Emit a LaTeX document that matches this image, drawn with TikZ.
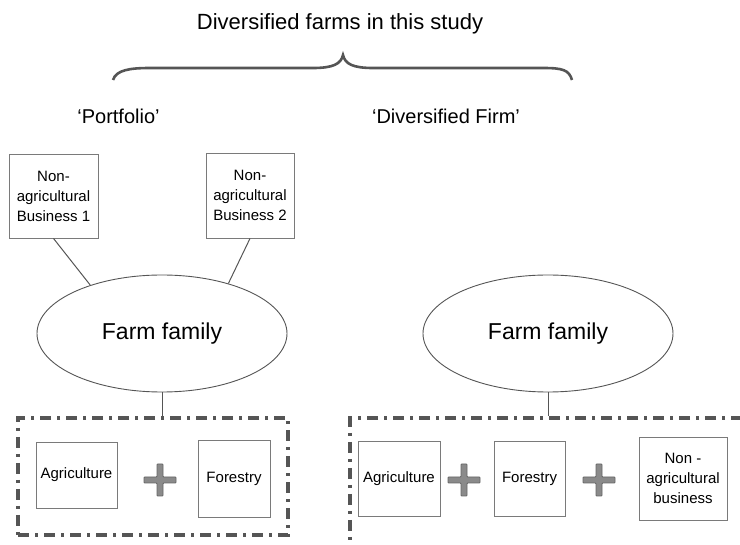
\documentclass[tikz,border=0pt]{standalone}
\usepackage{fontspec}
\setmainfont{Liberation Sans}
\usetikzlibrary{shapes.geometric}
\definecolor{linegray}{HTML}{555555}
\definecolor{boxgray}{HTML}{7A7A7A}
\definecolor{plusfill}{HTML}{8A8A8A}
\definecolor{plusedge}{HTML}{666666}
\tikzset{
  smallbox/.style={draw=boxgray, line width=0.9pt, rectangle, inner sep=0pt,
    align=center, font=\fontsize{15}{20}\selectfont},
  family/.style={draw=linegray, line width=0.9pt, ellipse, inner sep=0pt,
    minimum width=250pt, minimum height=117pt, font=\fontsize{23}{26}\selectfont},
  groupbox/.style={draw=linegray, line width=3.5pt, rectangle, inner sep=0pt,
    dash pattern=on 11pt off 6pt on 3pt off 6pt},
  link/.style={draw=linegray, line width=1pt},
  label/.style={font=\fontsize{20}{24}\selectfont},
  plussign/.pic={
    \draw[fill=plusfill, draw=plusedge, line width=0.8pt, rounded corners=0.8pt]
      (-16,-3) -- (-3,-3) -- (-3,-16) -- (3,-16) -- (3,-3) -- (16,-3) -- (16,3)
      -- (3,3) -- (3,16) -- (-3,16) -- (-3,3) -- (-16,3) -- cycle;
  }
}
\begin{document}
\begin{tikzpicture}[x=1pt, y=-1pt]
\useasboundingbox (0,0) rectangle (740,545);
\clip (0,0) rectangle (740,545);

% heading and brace
\node[font=\fontsize{22}{26}\selectfont] (title) at (340,24) {Diversified farms in this study};
\draw[draw=linegray, line width=2.6pt]
  (113,80) .. controls (116,70) and (130,68) .. (150,68)
  -- (313,68) .. controls (333,68) and (341,64) .. (343,55)
  .. controls (345,64) and (353,68) .. (373,68)
  -- (543,68) .. controls (563,68) and (569,70) .. (572,80);

\node[label] (portfolio) at (118.5,116) {‘Portfolio’};
\node[label] (divfirm) at (446,116) {‘Diversified Firm’};

% portfolio arrangement
\node[smallbox, minimum width=89pt, minimum height=84pt] (nb1) at (53.5,196)
  {Non-\\agricultural\\Business 1};
\node[smallbox, minimum width=88pt, minimum height=85pt] (nb2) at (250,195.5)
  {Non-\\agricultural\\Business 2};
\node[family] (famL) at (162,333.5) {Farm family};
\draw[link] (nb1.south) -- (famL.146);
\draw[link] (nb2.south) -- (famL.37);

\node[groupbox, minimum width=270pt, minimum height=117pt] (portbox) at (153,476.5) {};
\draw[link] (famL.south) -- (famL.south |- portbox.north);

\node[smallbox, minimum width=81pt, minimum height=66pt] (agriL) at (76.5,475) {Agriculture};
\pic at (160,480) {plussign};
\node[smallbox, minimum width=72pt, minimum height=77pt] (forL) at (234,478.5) {Forestry};

% diversified firm arrangement
\node[family] (famR) at (548,333.5) {Farm family};
\node[groupbox, minimum width=460pt, minimum height=200pt] (firmbox) at (580,518) {};
\draw[link] (famR.south) -- (famR.south |- firmbox.north);

\node[smallbox, minimum width=82pt, minimum height=75pt] (agriR) at (399,478.5) {Agriculture};
\pic at (464,480) {plussign};
\node[smallbox, minimum width=71pt, minimum height=75pt] (forR) at (529.5,478.5) {Forestry};
\pic at (599,480) {plussign};
\node[smallbox, minimum width=88pt, minimum height=83pt] (nbR) at (683,478.5)
  {Non -\\agricultural\\business};
\end{tikzpicture}
\end{document}
